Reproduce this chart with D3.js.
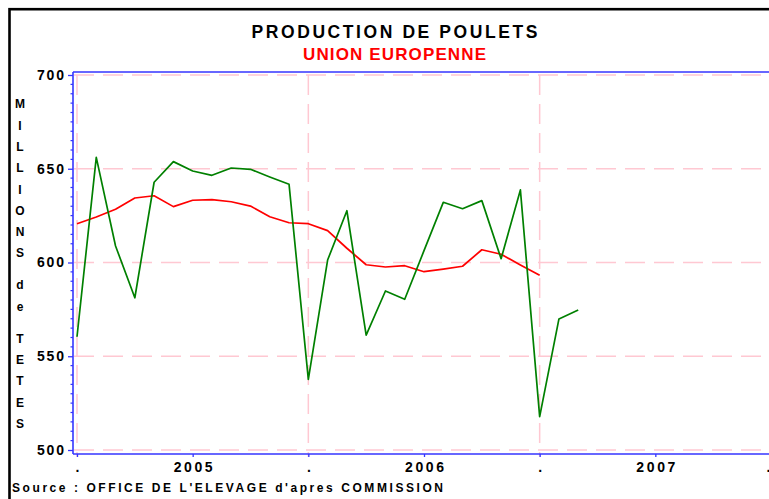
<!DOCTYPE html>
<html>
<head>
<meta charset="utf-8">
<script src="https://cdn.jsdelivr.net/npm/d3@7/dist/d3.min.js"></script>
<style>
  html, body { margin: 0; padding: 0; background: #fff; }
  svg { display: block; }
  text { font-family: "Liberation Sans", Arial, sans-serif; }
</style>
</head>
<body>
<svg id="chart" width="769" height="499"></svg>
<script>
// ---- DATA ----
const months = [
  "2005-01","2005-02","2005-03","2005-04","2005-05","2005-06","2005-07","2005-08","2005-09","2005-10","2005-11","2005-12",
  "2006-01","2006-02","2006-03","2006-04","2006-05","2006-06","2006-07","2006-08","2006-09","2006-10","2006-11","2006-12",
  "2007-01","2007-02","2007-03"
];
const production = [560.4, 656.1, 608.8, 581.2, 642.8, 653.8, 648.8, 646.5, 650.4, 649.7, 645.6, 641.7,
                    537.7, 601.3, 627.6, 561.3, 584.8, 580.4, 606.3, 632.1, 628.7, 633.0, 602.0, 638.7,
                    517.8, 569.9, 574.7];
const movingAverage = [620.7, 624.3, 628.4, 634.4, 635.6, 629.8, 633.2, 633.5, 632.4, 630.1, 624.4, 621.2,
                       620.7, 617.0, 607.6, 598.8, 597.6, 598.3, 595.1, 596.5, 598.0, 606.8, 604.4, 598.7,
                       593.2];
const xTickMonths = [0, 6, 12, 18, 24, 30, 36];
const xTickLabels = [".", "2005", ".", "2006", ".", "2007", "."];
const yTicks = [500, 550, 600, 650, 700];
const yTitle = "MILLIONS de TETES";
const title = "PRODUCTION DE POULETS";
const subtitle = "UNION EUROPENNE";
const source = "Source :  OFFICE DE L'ELEVAGE d'apres COMMISSION";

// ---- LAYOUT ----
const svg = d3.select("#chart");
const frame = { left: 73, top: 72, right: 800, bottom: 454 };
const x = d3.scaleLinear().domain([0, 36]).range([77, 771]);
const y = d3.scaleLinear().domain([500, 700]).range([450, 75]);
const axisBlue = "#3535ff";
const gridPink = "#ffc8d2";

// outer black border
svg.append("rect").attr("x", 9.5).attr("y", 9.2).attr("width", 900).attr("height", 700)
  .attr("fill", "none").attr("stroke", "#000").attr("stroke-width", 2.6);

// titles
svg.append("text").attr("x", 251.5).attr("y", 37.5).attr("textLength", 286).attr("lengthAdjust", "spacing")
  .attr("font-size", 17.5).attr("font-weight", "bold").attr("fill", "#000").text(title);
svg.append("text").attr("x", 303).attr("y", 60).attr("textLength", 183).attr("lengthAdjust", "spacing")
  .attr("font-size", 17).attr("font-weight", "bold").attr("fill", "#ff0000").text(subtitle);

// grid
const grid = svg.append("g");
grid.selectAll("line.h").data(yTicks).join("line")
  .attr("x1", frame.left + 1).attr("x2", frame.right)
  .attr("y1", d => y(d)).attr("y2", d => y(d))
  .attr("stroke", gridPink).attr("stroke-width", 1.3).attr("stroke-dasharray", "20,9");
grid.selectAll("line.v").data([0, 12, 24, 36]).join("line")
  .attr("x1", d => x(d)).attr("x2", d => x(d))
  .attr("y1", frame.top + 3).attr("y2", frame.bottom + 3)
  .attr("stroke", gridPink).attr("stroke-width", 1.5).attr("stroke-dasharray", "20,9");

// frame
svg.append("line").attr("x1", frame.left).attr("x2", frame.right).attr("y1", frame.top).attr("y2", frame.top)
  .attr("stroke", axisBlue).attr("stroke-width", 1.6);
svg.append("line").attr("x1", frame.left).attr("x2", frame.right).attr("y1", frame.bottom).attr("y2", frame.bottom)
  .attr("stroke", axisBlue).attr("stroke-width", 1.6);

// y axis
const yAxis = svg.append("g").attr("transform", `translate(${frame.left},0)`)
  .call(d3.axisLeft(y).tickValues(yTicks).tickSize(5).tickPadding(4).tickFormat(d3.format("d")));
yAxis.select(".domain").remove();
yAxis.selectAll(".tick line").attr("stroke", axisBlue).attr("stroke-width", 1.3);
yAxis.selectAll(".tick text").attr("font-size", 14).attr("font-weight", "bold").attr("fill", "#000")
  .attr("textLength", 27).attr("lengthAdjust", "spacing").attr("font-family", "Liberation Sans, Arial, sans-serif");
svg.append("line").attr("x1", frame.left).attr("x2", frame.left).attr("y1", frame.top).attr("y2", frame.bottom)
  .attr("stroke", axisBlue).attr("stroke-width", 1.6);
// minor ticks
svg.append("g").selectAll("line").data(d3.range(500, 701, 5).filter(v => v % 50 !== 0)).join("line")
  .attr("x1", frame.left - 2.5).attr("x2", frame.left).attr("y1", d => y(d)).attr("y2", d => y(d))
  .attr("stroke", axisBlue).attr("stroke-width", 1.2);

// x axis
const xAxis = svg.append("g").attr("transform", `translate(0,${frame.bottom})`)
  .call(d3.axisBottom(x).tickValues(xTickMonths).tickSize(3).tickPadding(5)
    .tickFormat((d, i) => xTickLabels[i]));
xAxis.select(".domain").remove();
xAxis.selectAll(".tick line").attr("stroke", axisBlue).attr("stroke-width", 1.3);
xAxis.selectAll(".tick text").attr("font-size", 14).attr("font-weight", "bold").attr("fill", "#000")
  .attr("font-family", "Liberation Sans, Arial, sans-serif")
  .each(function(d, i) {
    if (xTickLabels[i].length > 1) d3.select(this).attr("textLength", 39).attr("lengthAdjust", "spacing");
    if (i === xTickLabels.length - 1) d3.select(this).attr("text-anchor", "end").attr("dx", -1);
  });

// y title (stacked letters)
let yPos = 104;
const yt = svg.append("g");
for (const ch of yTitle) {
  if (ch === " ") { yPos += 10.7; continue; }
  yt.append("text").attr("x", 20).attr("y", yPos + 4.3).attr("text-anchor", "middle")
    .attr("font-size", 12).attr("font-weight", "bold").attr("fill", "#000").text(ch);
  yPos += 21.3;
}

// lines
const idx = (arr) => arr.map((v, i) => [i, v]);
const lineGen = d3.line().x(d => x(d[0])).y(d => y(d[1]));
svg.append("path").attr("d", lineGen(idx(movingAverage)))
  .attr("fill", "none").attr("stroke", "#ff0000").attr("stroke-width", 1.7).attr("stroke-linejoin", "round");
svg.append("path").attr("d", lineGen(idx(production)))
  .attr("fill", "none").attr("stroke", "#008000").attr("stroke-width", 1.7).attr("stroke-linejoin", "round");

// source
svg.append("text").attr("x", 12).attr("y", 492).attr("textLength", 431).attr("lengthAdjust", "spacing")
  .attr("font-size", 12).attr("font-weight", "bold").attr("fill", "#000").text(source);
</script>
</body>
</html>
